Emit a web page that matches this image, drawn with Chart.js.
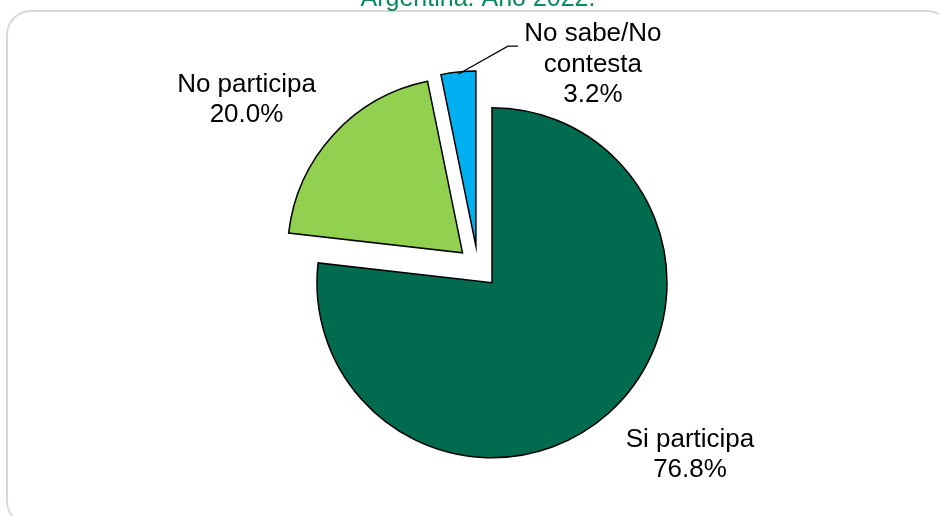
<!DOCTYPE html>
<html lang="es">
<head>
	<meta charset="utf-8">
	<title>Participación</title>
	<style>
		html, body { margin: 0; padding: 0; background: #fff; overflow: hidden; }
		#frame {
			position: absolute; left: 6px; top: 10px; width: 942px; height: 512px;
			border: 2px solid #d9d9d9; border-radius: 25px;
		}
		#pie { position: absolute; left: 0; top: -20px; }
	</style>
</head>
<body>
	<div id="frame"></div>
	<canvas id="pie" width="939" height="536"></canvas>
	<script src="https://cdn.jsdelivr.net/npm/chart.js@4/dist/chart.umd.min.js"></script>
	<script>
  var categories = ['Si participa', 'No participa', 'No sabe/No contesta'];
  var labelLines = [['Si participa'], ['No participa'], ['No sabe/No', 'contesta']];
  var shares = [76.8, 20.0, 3.2];
  var sliceColors = ['#006B4F', '#92D050', '#00B0F0'];

  // where each label sits, relative to its slice's (exploded) vertex
  var labelOffsets = [[198, 164], [-216, -161], [117, -205]];
  var textFont = '26px "Liberation Sans", Arial, sans-serif';

  var explode = {
  	id: 'explode',
  	beforeDatasetsDraw: function(chart, args, opts) {
  		var a = chart.chartArea;
  		var cx = (a.left + a.right) / 2;
  		var cy = (a.top + a.bottom) / 2;
  		chart.getDatasetMeta(0).data.forEach(function(arc) {
  			var mid = (arc.startAngle + arc.endAngle) / 2;
  			arc.x = cx + Math.cos(mid) * opts.distance;
  			arc.y = cy + Math.sin(mid) * opts.distance;
  		});
  	}
  };

  var sliceLabels = {
  	id: 'sliceLabels',
  	afterDatasetsDraw: function(chart) {
  		var ctx = chart.ctx;
  		var arcs = chart.getDatasetMeta(0).data;
  		ctx.save();
  		ctx.font = textFont;
  		ctx.fillStyle = '#000';
  		ctx.textAlign = 'center';
  		ctx.textBaseline = 'alphabetic';
  		arcs.forEach(function(arc, i) {
  			var x = arc.x + labelOffsets[i][0];
  			var y = arc.y + labelOffsets[i][1];
  			var lines = labelLines[i].concat([shares[i].toFixed(1) + '%']);
  			lines.forEach(function(t, k) {
  				ctx.fillText(t, x, y + k * 30.5);
  			});
  			if (i === 2) {
  				// leader line from the small slice to its label
  				var mid = (arc.startAngle + arc.endAngle) / 2;
  				var r = arc.outerRadius - 2;
  				ctx.strokeStyle = '#000';
  				ctx.lineWidth = 1.3;
  				ctx.beginPath();
  				ctx.moveTo(arc.x + Math.cos(mid) * r, arc.y + Math.sin(mid) * r);
  				ctx.lineTo(x - 85, y + 5);
  				ctx.lineTo(x - 75, y + 5);
  				ctx.stroke();
  			}
  		});
  		ctx.restore();
  	}
  };

  new Chart(document.getElementById('pie'), {
  	type: 'pie',
  	data: {
  		labels: categories,
  		datasets: [{
  			data: shares,
  			backgroundColor: sliceColors,
  			borderColor: '#000',
  			borderWidth: 1.5,
  			borderJoinStyle: 'miter'
  		}]
  	},
  	options: {
  		responsive: false,
  		animation: false,
  		radius: 175,
  		layout: { padding: { left: 17, right: 0, top: 0, bottom: 0 } },
  		plugins: {
  			legend: { display: false },
  			tooltip: { enabled: false },
  			explode: { distance: 21 },
  			title: {
  				display: true,
  				text: 'Argentina. Año 2022.',
  				color: '#0B8A5E',
  				font: { family: '"Liberation Sans", Arial, sans-serif', size: 25, weight: 'normal' },
  				padding: { top: 4, bottom: 4 }
  			}
  		}
  	},
  	plugins: [explode, sliceLabels]
  });
	</script>
</body>
</html>
